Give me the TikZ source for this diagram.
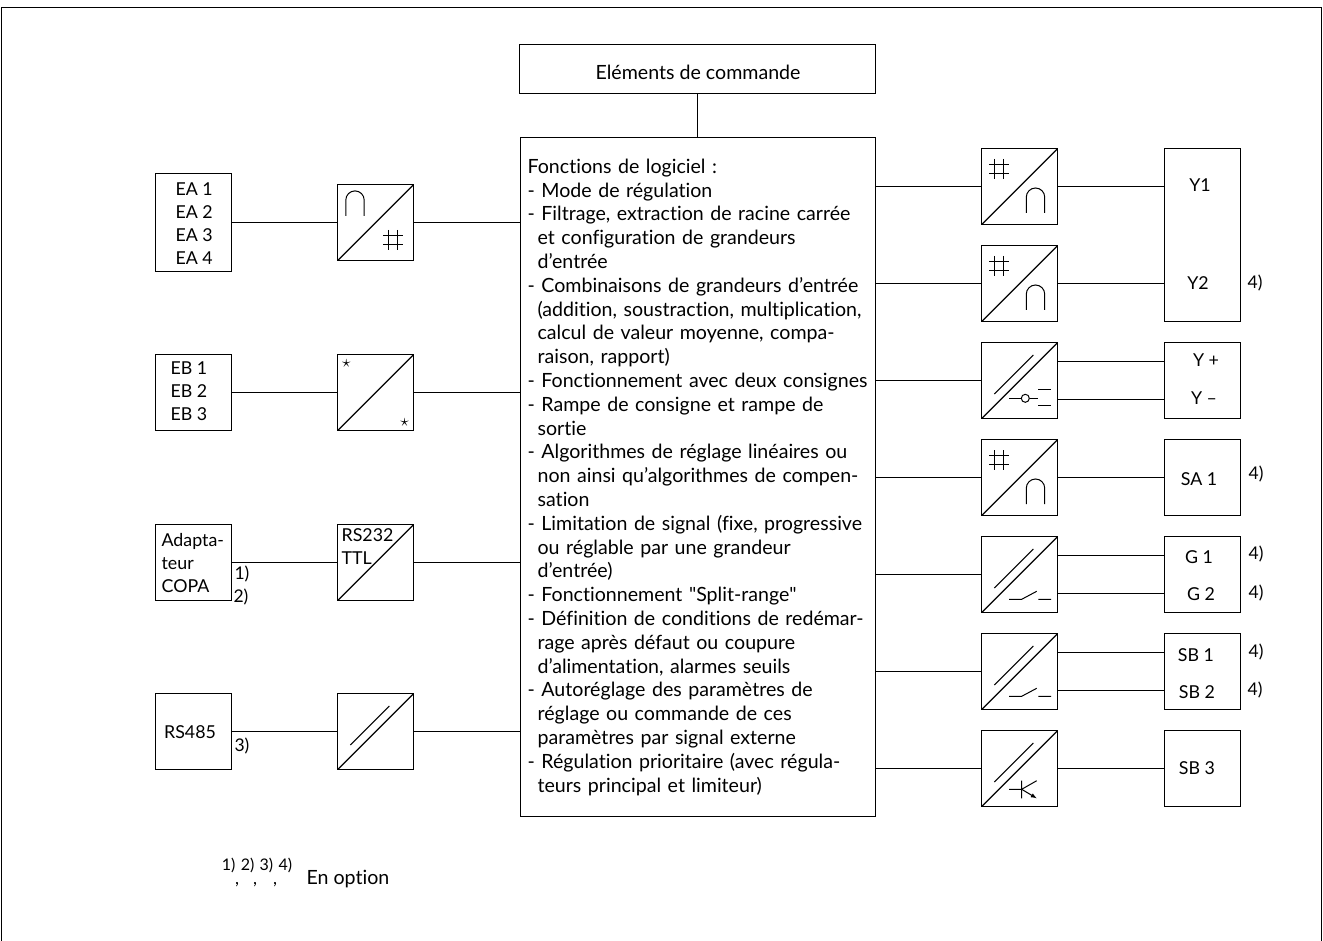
\documentclass[tikz,border=0pt]{standalone}
\usepackage{fontspec}
\setmainfont[Ligatures=NoCommon]{Lato}
\usepackage{tikz}
\tikzstyle{schema}=[x=1pt, y=-1pt, line width=1.2pt, font=\fontsize{19.6}{23.8}\selectfont]
\tikzstyle{box}=[rectangle, draw, line width=1.2pt, inner sep=0pt, anchor=north west]
\tikzstyle{conv}=[box, minimum width=76pt, minimum height=76pt, path picture={\draw[line width=1.2pt] (path picture bounding box.south west) -- (path picture bounding box.north east);}]
\tikzstyle{iobox}=[box, minimum width=76pt, minimum height=76pt]
\tikzstyle{lbl}=[inner sep=0pt, font=\fontsize{17.8}{23}\selectfont]
\tikzstyle{lines}=[lbl, align=left, anchor=west]
\tikzstyle{big}=[font=\fontsize{19.6}{23.8}\selectfont]
\tikzstyle{note}=[inner sep=0pt, font=\fontsize{17.5}{18}\selectfont]
\tikzstyle{sym}=[line width=1pt]
% symbols, placed from the top left corner of a converter
\newcommand{\hashsym}[3]{\begin{scope}[shift={(#1.north west)},shift={(#2,#3)}]
	\draw[sym] (-4.7,-10) -- (-4.7,10) (4.7,-10) -- (4.7,10) (-10,-4.7) -- (10,-4.7) (-10,4.7) -- (10,4.7);
	\end{scope}}
\newcommand{\capsym}[3]{\begin{scope}[shift={(#1.north west)},shift={(#2,#3)}]
	\draw[sym] (-9.2,12.5) -- (-9.2,-3.3) arc[start angle=180, end angle=360, radius=9.2] -- (9.2,12.5);
	\end{scope}}
\newcommand{\isosym}[1]{\draw[sym] ([shift={(13.3,52)}]#1.north west) -- ([shift={(52.3,13)}]#1.north west);}
\newcommand{\swsym}[1]{\begin{scope}[shift={(#1.north west)}]
	\draw[sym] (28,63.3) -- (40.7,63.3) -- (55.7,55.3) (57.3,63.3) -- (70,63.3);
	\end{scope}}
\newcommand{\ind}{\hspace*{10pt}}

\begin{document}
\begin{tikzpicture}[schema]
	\useasboundingbox (0,0) rectangle (1323,941);
	%The frame
	\draw[line width=1pt] (1.5,941) -- (1.5,7.5) -- (1321.5,7.5) -- (1321.5,941);

	%The centre
	\node[box, minimum width=356pt, minimum height=49pt] (elem) at (519,44) {};
	\node[lbl, big] (elemtxt) at (698,72) {Eléments de commande};
	\node[box, minimum width=355pt, minimum height=679pt, text width=341pt, inner xsep=7pt, align=left] (main) at (520,137) {Fonctions de logiciel :\\
	- Mode de régulation\\
	- Filtrage, extraction de racine carrée\\
	\ind et configuration de grandeurs\\
	\ind d’entrée\\
	- Combinaisons de grandeurs d’entrée\\
	\ind (addition, soustraction, multiplication,\\
	\ind calcul de valeur moyenne, compa-\\
	\ind raison, rapport)\\
	- Fonctionnement avec deux consignes\\
	- Rampe de consigne et rampe de\\
	\ind sortie\\
	- Algorithmes de réglage linéaires ou\\
	\ind non ainsi qu’algorithmes de compen-\\
	\ind sation\\
	- Limitation de signal (fixe, progressive\\
	\ind ou réglable par une grandeur\\
	\ind d’entrée)\\
	- Fonctionnement \textquotedbl Split-range\textquotedbl\\
	- Définition de conditions de redémar-\\
	\ind rage après défaut ou coupure\\
	\ind d’alimentation, alarmes seuils\\
	- Autoréglage des paramètres de\\
	\ind réglage ou commande de ces\\
	\ind paramètres par signal externe\\
	- Régulation prioritaire (avec régula-\\
	\ind teurs principal et limiteur)};
	\draw (elem.south) -- (main.north -| elem.south);

	%The inputs
	\node[iobox, minimum height=98pt] (ea) at (155,173) {};
	\node[lines] (eatxt) at (175,223.5) {EA 1\\EA 2\\EA 3\\EA 4};
	\node[iobox] (eb) at (155,354) {};
	\node[lines] (ebtxt) at (170,391) {EB 1\\EB 2\\EB 3};
	\node[iobox] (copa) at (155,524) {};
	\node[lines] (copatxt) at (161,563) {Adapta-\\teur\\COPA};
	\node[iobox] (rsf) at (155,693) {};
	\node[lbl] (rsftxt) at (190,732) {RS485};
	\node[note] (n1) at (242,574) {1)};
	\node[note] (n2) at (241,597) {2)};
	\node[note] (n3) at (242,746) {3)};

	%The input converters
	\node[conv] (ca) at (337,184) {};
	\capsym{ca}{18}{19.4}
	\hashsym{ca}{56}{56}
	\node[conv] (cb) at (337,354) {};
	\node[lbl, font=\LARGE] (cbs) at ([shift={(9.3,9.3)}]cb.north west) {$\star$};
	\node[lbl, font=\LARGE] (cbe) at ([shift={(67.7,68.3)}]cb.north west) {$\star$};
	\node[conv] (cc) at (337,524) {};
	\node[lines] (cctxt) at (341,547) {RS232\\TTL};
	\node[conv] (cd) at (337,693) {};
	\isosym{cd}

	\draw (ea.east |- ca.west) -- (ca.west);
	\draw (ca.east) -- (ca.east -| main.west);
	\draw (eb.east) -- (cb.west);
	\draw (cb.east) -- (cb.east -| main.west);
	\draw (copa.east) -- (cc.west);
	\draw (cc.east) -- (cc.east -| main.west);
	\draw (rsf.east) -- (cd.west);
	\draw (cd.east) -- (cd.east -| main.west);

	%The output converters
	\node[conv] (co) at (981,148) {};
	\hashsym{co}{18}{21}
	\capsym{co}{54.5}{52.5}
	\node[conv] (cp) at (981,245) {};
	\hashsym{cp}{18}{21}
	\capsym{cp}{54.5}{52.5}
	\node[conv] (cq) at (981,342) {};
	\isosym{cq}
	\begin{scope}[shift={(cq.north west)}]
		\node[circle, draw, line width=1pt, minimum size=8pt, inner sep=0pt] (cqo) at (44.3,56.3) {};
		\draw[sym] (28,56.3) -- (cqo.west) (cqo.east) -- (57,56.3) (57,47) -- (70,47) (57,63.7) -- (70,63.7);
	\end{scope}
	\node[conv] (cr) at (981,439) {};
	\hashsym{cr}{18}{21}
	\capsym{cr}{54.5}{52.5}
	\node[conv] (cs) at (981,536) {};
	\isosym{cs}
	\swsym{cs}
	\node[conv] (ct) at (981,633) {};
	\isosym{ct}
	\swsym{ct}
	\node[conv] (cu) at (981,730) {};
	\isosym{cu}
	\begin{scope}[shift={(cu.north west)}]
		\draw[sym] (28,59.3) -- (40.7,59.3) (40.7,50.7) -- (40.7,68.3) (40.7,59.3) -- (55.7,50.7);
		\draw[sym, -latex] (40.7,59.3) -- (55.7,68.3);
	\end{scope}

	%The outputs
	\node[iobox, minimum height=173pt] (y) at (1164,148) {};
	\node[lbl] (ytxta) at (1200,185) {Y1};
	\node[lbl] (ytxtb) at (1198,283) {Y2};
	\node[iobox] (ypm) at (1164,342) {};
	\node[lbl] (ypmtxta) at (1206,360) {Y +};
	\node[lbl] (ypmtxtb) at (1204,398) {Y –};
	\node[iobox] (sa) at (1164,439) {};
	\node[lbl] (satxt) at (1199,479) {SA 1};
	\node[iobox] (g) at (1164,536) {};
	\node[lbl] (gtxta) at (1199,557) {G 1};
	\node[lbl] (gtxtb) at (1201,594) {G 2};
	\node[iobox] (sb) at (1164,633) {};
	\node[lbl] (sbtxta) at (1196,655) {SB 1};
	\node[lbl] (sbtxtb) at (1197,692) {SB 2};
	\node[iobox] (sc) at (1164,730) {};
	\node[lbl] (sctxt) at (1197,768) {SB 3};
	\node[note] (n4a) at (1255,283) {4)};
	\node[note] (n4b) at (1256,474) {4)};
	\node[note] (n4c) at (1256,554) {4)};
	\node[note] (n4d) at (1256,593) {4)};
	\node[note] (n4e) at (1256,652) {4)};
	\node[note] (n4f) at (1255,690) {4)};

	\draw (co.west -| main.east) -- (co.west);
	\draw (co.east) -- (co.east -| y.west);
	\draw (cp.west -| main.east) -- (cp.west);
	\draw (cp.east) -- (cp.east -| y.west);
	\draw (cq.west -| main.east) -- (cq.west);
	\draw ([yshift=-19pt]cq.east) -- ([yshift=-19pt]cq.east -| ypm.west);
	\draw ([yshift=19pt]cq.east) -- ([yshift=19pt]cq.east -| ypm.west);
	\draw (cr.west -| main.east) -- (cr.west);
	\draw (cr.east) -- (sa.west);
	\draw (cs.west -| main.east) -- (cs.west);
	\draw ([yshift=-19pt]cs.east) -- ([yshift=-19pt]cs.east -| g.west);
	\draw ([yshift=19pt]cs.east) -- ([yshift=19pt]cs.east -| g.west);
	\draw (ct.west -| main.east) -- (ct.west);
	\draw ([yshift=-19pt]ct.east) -- ([yshift=-19pt]ct.east -| sb.west);
	\draw ([yshift=19pt]ct.east) -- ([yshift=19pt]ct.east -| sb.west);
	\draw (cu.west -| main.east) -- (cu.west);
	\draw (cu.east) -- (sc.west);

	%The footnote
	\node[note, font=\fontsize{16}{15}\selectfont] (fnums) at (257,865) {1)\,\,2)\,\,3)\,\,4)};
	\node[note] (fca) at (237,885) {,};
	\node[note] (fcb) at (255,885) {,};
	\node[note] (fcc) at (275,885) {,};
	\node[lines, big] (ftxt) at (306,879) {En option};
\end{tikzpicture}
\end{document}
